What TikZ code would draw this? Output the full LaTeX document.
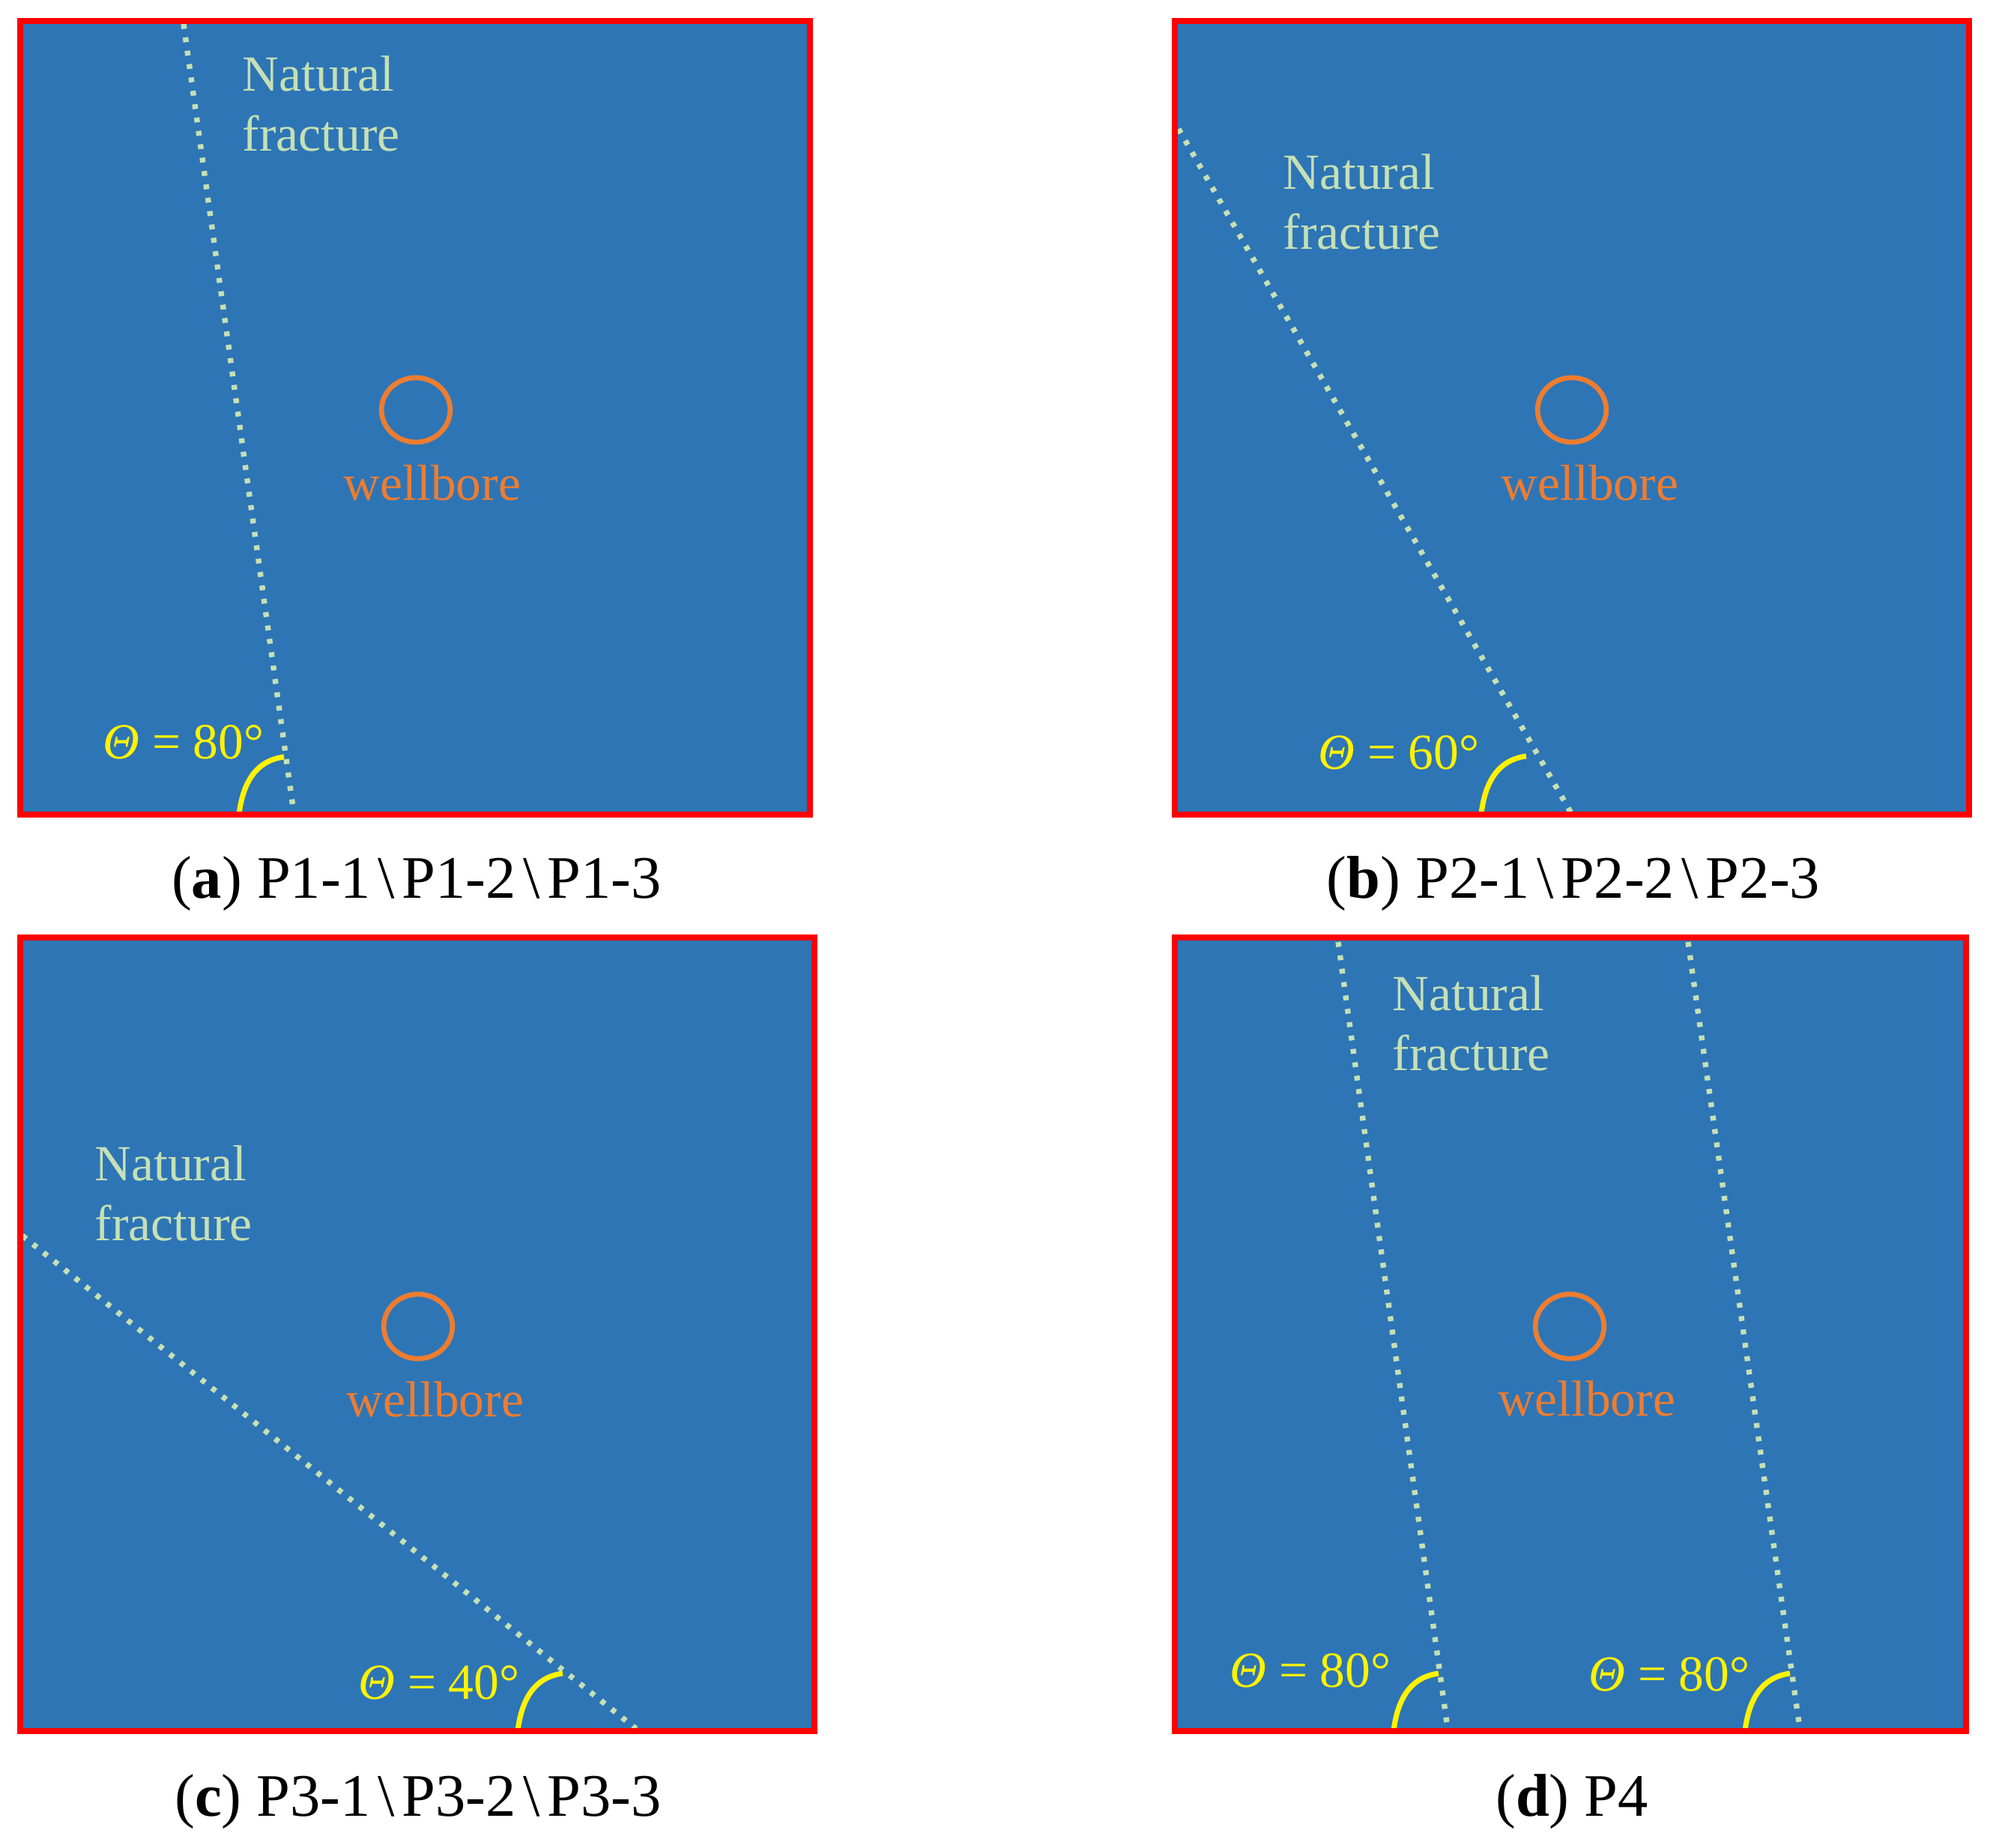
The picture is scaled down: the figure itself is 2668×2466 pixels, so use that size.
\documentclass[tikz,border=0pt]{standalone}
\usepackage{fontspec}
\setmainfont{Liberation Serif}
\definecolor{panelblue}{HTML}{2E75B6}
\definecolor{fracgreen}{HTML}{C5E0B4}
\definecolor{wellorange}{HTML}{ED7D31}
\newcommand\labfont{\fontsize{19.2pt}{23pt}\selectfont}
\newcommand\capfont{\fontsize{22.9pt}{27pt}\selectfont}
\newcommand\bsl{\kern0.12em\textbackslash\kern0.12em}
\begin{document}
\begin{tikzpicture}[x=0.01cm,y=-0.01cm,
  panel/.style={fill=panelblue},
  frame/.style={draw=red,line width=2.1pt},
  frac/.style={draw=fracgreen,line width=2.1pt,dash pattern=on 0.065cm off 0.115cm},
  well/.style={draw=wellorange,line width=1.9pt},
  arcline/.style={draw=yellow,line width=2pt},
  nf/.style={text=fracgreen,font=\labfont,inner sep=0pt,anchor=base west},
  wb/.style={text=wellorange,font=\labfont,inner sep=0pt,anchor=base},
  th/.style={text=yellow,font=\labfont,inner sep=0pt,anchor=base},
  captxt/.style={text=black,font=\capfont,inner sep=0pt,anchor=base}]
\useasboundingbox (0,0) rectangle (2668,2466);
\newcommand\thetaarc[1]{\draw[arcline,shift={(#1)}] (0,0) .. controls (5,-42) and (22,-72) .. (60,-77);}

% ---------- panel (a)
\fill[panel] (27,28) rectangle (1081,1087);
\coordinate (a1) at (245,32);
\coordinate (a2) at (392,1084);
\draw[frac] (a1) -- (a2);
\thetaarc{319,1087}
\draw[well] (555,547) ellipse [x radius=0.458cm,y radius=0.43cm];
\node[nf] (anat) at (323,121) {Natural};
\node[nf] (afra) at (323,201) {fracture};
\node[wb] (awell) at (577,667) {wellbore};
\node[th] (ath) at (245,1012) {\textit{Θ} = 80°};
\draw[frame] (27,28) rectangle (1081,1087);
\node[captxt] (acap) at (556,1198) {(\textbf{a}) P1-1\bsl P1-2\bsl P1-3};

% ---------- panel (b)
\fill[panel] (1568,28) rectangle (2628,1087);
\coordinate (b1) at (1573,172);
\coordinate (b2) at (2097,1085);
\draw[frac] (b1) -- (b2);
\thetaarc{1977,1086}
\draw[well] (2098,547) ellipse [x radius=0.458cm,y radius=0.43cm];
\node[nf] (bnat) at (1712,252) {Natural};
\node[nf] (bfra) at (1712,332) {fracture};
\node[wb] (bwell) at (2122,667) {wellbore};
\node[th] (bth) at (1867,1026) {\textit{Θ} = 60°};
\draw[frame] (1568,28) rectangle (2628,1087);
\node[captxt] (bcap) at (2100,1198) {(\textbf{b}) P2-1\bsl P2-2\bsl P2-3};

% ---------- panel (c)
\fill[panel] (27,1251) rectangle (1087,2310);
\coordinate (c1) at (30,1649);
\coordinate (c2) at (849,2307);
\draw[frac] (c1) -- (c2);
\thetaarc{691,2310}
\draw[well] (558,1770) ellipse [x radius=0.458cm,y radius=0.43cm];
\node[nf] (cnat) at (126,1575) {Natural};
\node[nf] (cfra) at (126,1655) {fracture};
\node[wb] (cwell) at (581,1890) {wellbore};
\node[th] (cth) at (586,2267) {\textit{Θ} = 40°};
\draw[frame] (27,1251) rectangle (1087,2310);
\node[captxt] (ccap) at (558,2423) {(\textbf{c}) P3-1\bsl P3-2\bsl P3-3};

% ---------- panel (d)
\fill[panel] (1568,1251) rectangle (2624,2310);
\coordinate (d1) at (1786,1257);
\coordinate (d2) at (1932,2306);
\coordinate (d3) at (2253,1257);
\coordinate (d4) at (2402,2306);
\draw[frac] (d1) -- (d2);
\draw[frac] (d3) -- (d4);
\thetaarc{1860,2310}
\thetaarc{2329,2310}
\draw[well] (2095,1770) ellipse [x radius=0.458cm,y radius=0.43cm];
\node[nf] (dnat) at (1858,1348) {Natural};
\node[nf] (dfra) at (1858,1428) {fracture};
\node[wb] (dwell) at (2118,1889) {wellbore};
\node[th] (dth1) at (1749,2251) {\textit{Θ} = 80°};
\node[th] (dth2) at (2228,2256) {\textit{Θ} = 80°};
\draw[frame] (1568,1251) rectangle (2624,2310);
\node[captxt] (dcap) at (2098,2423) {(\textbf{d}) P4};
\end{tikzpicture}
\end{document}
